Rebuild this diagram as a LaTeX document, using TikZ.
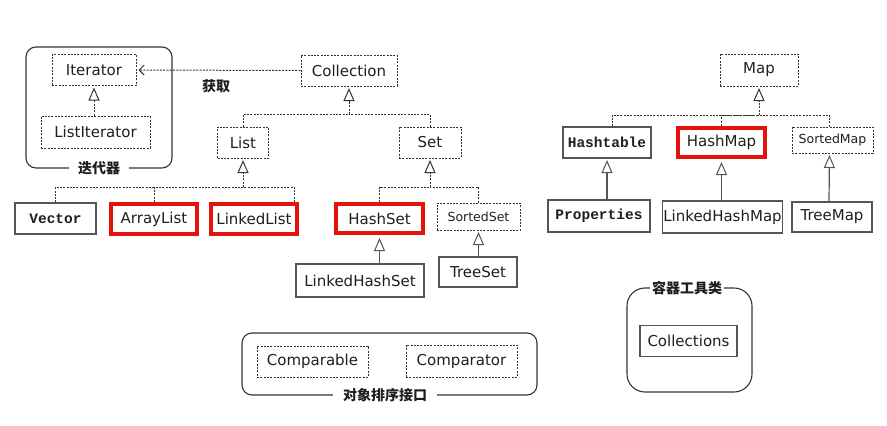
\documentclass[tikz,border=0pt]{standalone}
\usepackage{fontspec}
\setmainfont{DejaVu Sans}
\newfontfamily\cjk{Noto Sans CJK SC}
\newfontfamily\monob{Liberation Mono}
\usetikzlibrary{arrows.meta}
\definecolor{ln}{HTML}{333333}
\definecolor{sl}{HTML}{555555}
\definecolor{redb}{HTML}{E3120B}
\definecolor{tx}{HTML}{1E1E1E}
\begin{document}
\begin{tikzpicture}[x=1pt,y=-1pt,
 every node/.style={inner sep=0pt, text=tx, font=\fontsize{15}{17}\selectfont},
 dbox/.style={draw=ln, line width=1pt, dash pattern=on 2pt off 1.3pt},
 sbox/.style={draw=sl, line width=1.2pt},
 rbox/.style={draw=redb, line width=4pt},
 dline/.style={draw=ln, line width=1pt, dash pattern=on 2pt off 1.3pt},
 sline/.style={draw=sl, line width=1.2pt},
 tri/.style={-{Triangle[length=13pt,width=11pt,fill=white,line width=1pt]}, shorten >=1.5pt},
 cont/.style={draw=black!80, line width=1.1pt, rounded corners=10pt},
 clabel/.style={fill=white, font=\cjk\bfseries\fontsize{14}{16}\selectfont, inner ysep=1pt},
 mono/.style={font=\monob\bfseries\fontsize{14.5}{16}\selectfont},
 small/.style={font=\fontsize{12.5}{14}\selectfont}
]
\useasboundingbox (0,0) rectangle (887,426);

% containers
\draw[cont] (26,47) rectangle (172,168);
\node[clabel, inner xsep=9pt] (lblIt) at (99,168) {迭代器};
\draw[cont] (242,333) rectangle (537,395);
\node[clabel, inner xsep=10pt] (lblCmp) at (385,395) {对象排序接口};
\draw[cont, rounded corners=18pt] (627,288) rectangle (752,392);
\node[clabel, inner xsep=2pt] (lblTool) at (687,288) {容器工具类};

% nodes
\node[dbox, minimum width=84pt, minimum height=31pt] (Iter) at (94,70) {Iterator};
\node[dbox, minimum width=109pt, minimum height=32pt] (ListIter) at (95.5,132) {ListIterator};
\node[dbox, minimum width=96pt, minimum height=31pt] (Coll) at (349,70.5) {Collection};
\node[dbox, minimum width=51pt, minimum height=31pt] (List) at (243,142.5) {List};
\node[dbox, minimum width=62pt, minimum height=31pt] (Set) at (430,142.5) {Set};
\node[sbox, mono, minimum width=81pt, minimum height=31pt] (Vector) at (55.5,218.5) {Vector};
\node[rbox, minimum width=86pt, minimum height=30pt] (ArrayList) at (154,219) {ArrayList};
\node[rbox, minimum width=86pt, minimum height=30pt] (LinkedList) at (254,219) {LinkedList};
\node[rbox, minimum width=87pt, minimum height=29pt] (HashSet) at (379.5,218.5) {HashSet};
\node[dbox, small, minimum width=83pt, minimum height=27pt] (SortedSet) at (478.5,216.5) {SortedSet};
\node[sbox, minimum width=128pt, minimum height=33pt] (LinkedHashSet) at (360,280.5) {LinkedHashSet};
\node[sbox, minimum width=78pt, minimum height=30pt] (TreeSet) at (478,272) {TreeSet};
\node[dbox, minimum width=111pt, minimum height=31pt] (Comparable) at (312.5,361.5) {Comparable};
\node[dbox, minimum width=111pt, minimum height=32pt] (Comparator) at (461.5,361) {Comparator};
\node[dbox, minimum width=78pt, minimum height=32pt] (Map) at (759,70) {Map};
\node[sbox, mono, minimum width=88pt, minimum height=31pt] (Hashtable) at (607,142.5) {Hashtable};
\node[rbox, minimum width=87pt, minimum height=29pt] (HashMap) at (721.5,142.5) {HashMap};
\node[dbox, small, minimum width=81pt, minimum height=26pt] (SortedMap) at (832.5,140) {SortedMap};
\node[sbox, mono, minimum width=102pt, minimum height=32pt] (Properties) at (599,216) {Properties};
\node[sbox, minimum width=120pt, minimum height=32pt] (LinkedHashMap) at (722.5,217) {LinkedHashMap};
\node[sbox, minimum width=80pt, minimum height=30pt] (TreeMap) at (832,217) {TreeMap};
\node[sbox, minimum width=97pt, minimum height=31pt] (Collections) at (688.5,341) {Collections};

% iterator
\draw[dline, tri] (Iter.south |- ListIter.north) -- (Iter.south);
\draw[dline, -{Straight Barb[length=5pt,width=10pt,line width=1pt]}, shorten >=2pt] (Coll.west) -- (Iter.east);
\node[font=\cjk\bfseries\fontsize{14}{16}\selectfont] (get) at (216,86) {获取};

% collection tree
\coordinate (jC) at (349,114);
\draw[dline, tri] (jC) -- (Coll.south);
\draw[dline] (List.north) |- (jC);
\draw[dline] (Set.north) |- (jC);

% list tree
\coordinate (jL) at (243,187);
\draw[dline, tri] (jL) -- (List.south);
\draw[dline] (Vector.north) |- (jL);
\draw[dline] (ArrayList.north) -- (ArrayList.north |- jL);
\draw[dline] ([xshift=40pt]LinkedList.north) |- (jL);

% set tree
\coordinate (jS) at (430,187);
\draw[dline, tri] (jS) -- (Set.south);
\draw[dline] (HashSet.north) |- (jS);
\draw[dline] (SortedSet.north) |- (jS);
\draw[sline, tri, shorten >=3pt] (HashSet.south |- LinkedHashSet.north) -- (HashSet.south);
\draw[sline, tri] (SortedSet.south |- TreeSet.north) -- (SortedSet.south);

% map tree
\coordinate (jM) at (759,115);
\draw[dline, tri] (jM) -- (Map.south);
\draw[dline] ([xshift=5pt]Hashtable.north) |- (jM);
\draw[dline] (HashMap.north) |- (jM);
\draw[dline] ([xshift=-3pt]SortedMap.north) |- (jM);
\draw[sline, tri] (Hashtable.south |- Properties.north) -- (Hashtable.south);
\draw[sline, tri, shorten >=3pt] (HashMap.south |- LinkedHashMap.north) -- (HashMap.south);
\draw[sline, tri] ([xshift=-3pt]TreeMap.north) -- ([xshift=-3pt]SortedMap.south);
\end{tikzpicture}
\end{document}
